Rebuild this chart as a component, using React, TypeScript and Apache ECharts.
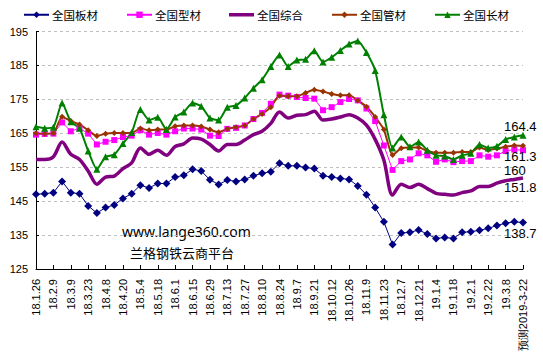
import React, { useEffect, useRef } from "react";
import * as echarts from "echarts";

const categories = [
  "18.1.26", "18.2.2", "18.2.9", "18.3.2", "18.3.9", "18.3.16", "18.3.23", "18.3.30",
  "18.4.8", "18.4.13", "18.4.20", "18.4.27", "18.5.4", "18.5.11", "18.5.18", "18.5.25",
  "18.6.1", "18.6.8", "18.6.15", "18.6.22", "18.6.29", "18.7.6", "18.7.13", "18.7.20",
  "18.7.27", "18.8.3", "18.8.10", "18.8.17", "18.8.24", "18.8.31", "18.9.7", "18.9.14",
  "18.9.21", "18.9.28", "18.10.12", "18.10.19", "18.10.26", "18.11.2", "18.11.9", "18.11.16",
  "18.11.23", "18.11.30", "18.12.7", "18.12.14", "18.12.21", "18.12.28", "19.1.4", "19.1.11",
  "19.1.18", "19.1.25", "19.2.1", "19.2.15", "19.2.22", "19.3.1", "19.3.8", "19.3.15",
  "预测2019-3-22",
];

const plateValues = [
  147.0, 147.2, 147.5, 150.8, 147.5, 147.2, 143.6, 141.5, 143.1, 143.9,
  145.8, 147.2, 149.7, 148.9, 150.2, 150.2, 152.1, 152.6, 154.4, 153.9,
  151.3, 149.9, 151.2, 150.8, 151.4, 152.5, 153.2, 153.7, 156.2, 155.4,
  155.4, 154.9, 154.6, 152.5, 152.1, 151.7, 151.4, 149.5, 146.9, 143.1,
  138.9, 132.2, 135.6, 135.8, 136.5, 135.3, 134.0, 134.3, 134.0, 135.8,
  136.0, 136.4, 137.0, 137.8, 138.5, 138.9, 138.7,
];

const sectionValues = [
  164.6, 164.8, 164.9, 168.2, 165.6, 166.5, 164.9, 161.7, 162.5, 163.0,
  163.9, 164.3, 165.9, 164.6, 165.1, 164.6, 165.6, 166.4, 166.4, 166.1,
  164.3, 164.2, 166.3, 166.6, 167.3, 169.2, 171.0, 173.7, 176.4, 176.1,
  175.7, 175.4, 175.2, 171.8, 172.7, 174.2, 175.1, 174.7, 172.3, 168.6,
  161.4, 154.2, 156.8, 157.3, 159.1, 158.5, 156.6, 157.3, 156.5, 156.8,
  156.8, 158.5, 158.1, 158.5, 159.8, 160.2, 160.0,
];

const compositeValues = [
  157.3, 157.3, 158.1, 162.4, 158.8, 157.3, 153.9, 150.0, 152.1, 152.4,
  154.6, 156.3, 160.7, 158.8, 160.0, 158.5, 161.1, 161.9, 163.6, 163.3,
  161.7, 159.8, 161.7, 161.7, 163.0, 164.6, 165.6, 167.9, 171.3, 169.5,
  170.3, 170.5, 171.5, 168.9, 169.2, 169.8, 170.5, 169.5, 167.4, 163.2,
  157.1, 146.8, 150.0, 149.0, 150.0, 148.7, 147.3, 147.0, 146.8, 147.5,
  148.0, 149.3, 149.3, 150.3, 151.0, 151.4, 151.8,
];

const pipeValues = [
  165.0, 164.9, 165.0, 169.9, 168.6, 167.6, 165.9, 164.2, 164.9, 165.1,
  165.1, 165.1, 166.4, 165.9, 166.1, 166.1, 167.1, 167.3, 167.3, 167.0,
  166.1, 165.3, 166.3, 166.8, 167.3, 169.2, 170.7, 172.7, 176.1, 175.9,
  175.9, 176.9, 177.8, 177.3, 176.6, 176.2, 176.2, 174.7, 172.8, 169.8,
  166.1, 158.6, 160.6, 160.8, 160.8, 159.8, 159.3, 159.3, 159.3, 159.5,
  159.5, 160.8, 160.1, 160.5, 161.0, 161.4, 161.3,
];

const longValues = [
  166.9, 166.5, 166.8, 173.9, 168.4, 166.5, 159.8, 154.4, 158.1, 158.7,
  162.0, 165.2, 172.0, 168.9, 169.7, 166.1, 169.8, 171.3, 173.9, 173.0,
  169.5, 168.9, 172.7, 173.2, 175.4, 178.3, 180.8, 184.7, 188.1, 184.7,
  186.6, 186.8, 189.3, 186.0, 187.4, 189.4, 191.3, 192.2, 188.8, 183.5,
  170.5, 160.7, 163.9, 161.0, 162.4, 160.0, 158.5, 158.3, 157.3, 158.5,
  159.1, 161.7, 160.7, 161.2, 163.2, 163.9, 164.4,
];

const seriesNames = ["全国板材", "全国型材", "全国综合", "全国管材", "全国长材"];
const yTicks = { min: 125, max: 195, interval: 10 };

function endLabel(offset: [number, number]) {
  return {
    show: true,
    distance: 0,
    align: "left",
    verticalAlign: "middle",
    offset,
    color: "#000",
    fontSize: 13,
    fontFamily: "Liberation Sans, Arial, sans-serif",
    formatter: (p: any) => String(p.value),
  };
}

export default function App() {
  const ref = useRef<HTMLDivElement>(null);
  useEffect(() => {
    if (!ref.current) return;
    const chart = echarts.init(ref.current, undefined, { renderer: "svg" });
    const font = "Liberation Sans, Arial, sans-serif";
    chart.setOption({
      animation: false,
      backgroundColor: "#fff",
      legend: {
        data: seriesNames.map((n, i) =>
          i === 2 ? { name: n, icon: "path://M0,0L25,0L25,3.5L0,3.5Z" } : n
        ),
        left: 23,
        top: 9,
        padding: 0,
        itemWidth: 25,
        itemHeight: 8,
        itemGap: 28,
        textStyle: { fontSize: 11.5, color: "#000", fontFamily: "Noto Sans CJK SC", padding: [0, 0, 0, -2] },
      },
      grid: { left: 36, right: 20, top: 31.5, bottom: 92, containLabel: false },
      xAxis: {
        type: "category",
        data: categories,
        boundaryGap: false,
        axisLine: { lineStyle: { color: "#000", width: 1 } },
        axisTick: { inside: true, interval: 1, length: 4, lineStyle: { color: "#000" } },
        axisLabel: {
          interval: 1,
          rotate: 90,
          margin: 10,
          fontSize: 11,
          color: "#000",
          fontFamily: font,
        },
        splitLine: { show: false },
      },
      yAxis: {
        type: "value",
        min: yTicks.min,
        max: yTicks.max,
        interval: yTicks.interval,
        axisLine: { show: true, lineStyle: { color: "#000", width: 1 } },
        axisTick: { show: true, inside: true, length: 3, lineStyle: { color: "#000" } },
        axisLabel: { fontSize: 11, color: "#000", margin: 8, fontFamily: font },
        splitLine: { lineStyle: { color: "#c0c0c0", type: [3, 3], width: 1 } },
      },
      graphic: [
        {
          type: "text",
          left: 122,
          top: 224,
          style: { text: "www.lange360.com", fontSize: 14, fill: "#000", fontFamily: "Noto Sans, sans-serif" },
        },
        {
          type: "text",
          left: 130,
          top: 246,
          style: { text: "兰格钢铁云商平台", fontSize: 13, fill: "#000", fontFamily: "Noto Sans CJK SC" },
        },
      ],
      series: [
        {
          name: seriesNames[0],
          type: "line",
          data: plateValues,
          symbol: "diamond",
          symbolSize: 8,
          showAllSymbol: true,
          endLabel: endLabel([-19, 11]),
          lineStyle: { color: "#000080", width: 1 },
          itemStyle: { color: "#000080" },
        },
        {
          name: seriesNames[1],
          type: "line",
          data: sectionValues,
          symbol: "rect",
          symbolSize: 6,
          showAllSymbol: true,
          endLabel: endLabel([-19, 20]),
          lineStyle: { color: "#ff00ff", width: 1 },
          itemStyle: { color: "#ff00ff" },
        },
        {
          name: seriesNames[2],
          type: "line",
          data: compositeValues,
          symbol: "none",
          smooth: 0.3,
          endLabel: endLabel([-19, 9]),
          lineStyle: { color: "#800080", width: 3.5 },
          itemStyle: { color: "#800080" },
        },
        {
          name: seriesNames[3],
          type: "line",
          data: pipeValues,
          symbol: "diamond",
          symbolSize: 6,
          showAllSymbol: true,
          smooth: 0.2,
          endLabel: endLabel([-19, 11]),
          lineStyle: { color: "#993300", width: 2 },
          itemStyle: { color: "#993300" },
        },
        {
          name: seriesNames[4],
          type: "line",
          data: longValues,
          symbol: "triangle",
          symbolSize: 7,
          showAllSymbol: true,
          smooth: 0.2,
          endLabel: endLabel([-19, -9]),
          lineStyle: { color: "#008000", width: 2 },
          itemStyle: { color: "#008000" },
        },
      ],
    });
    return () => chart.dispose();
  }, []);
  return (
    <div
      ref={ref}
      style={{ position: "absolute", left: 0, top: 0, width: 543, height: 361, background: "#fff" }}
    />
  );
}
